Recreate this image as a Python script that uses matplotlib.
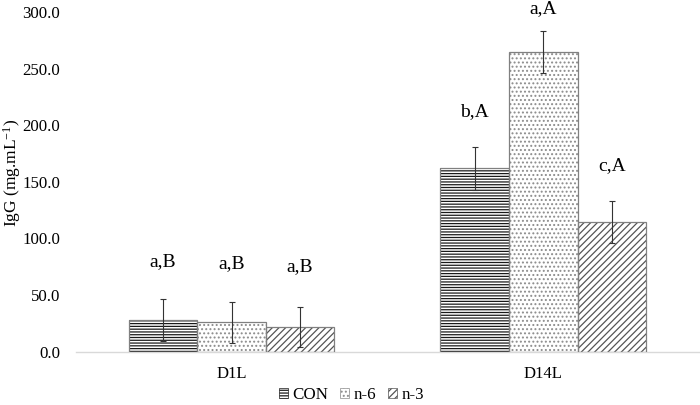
import matplotlib
matplotlib.use("Agg")
import matplotlib.pyplot as plt
import numpy as np
from matplotlib.patches import Patch

plt.rcParams['font.family'] = ['Liberation Serif', 'DejaVu Serif']
plt.rcParams['mathtext.fontset'] = 'custom'
plt.rcParams['mathtext.rm'] = 'Liberation Serif'
plt.rcParams['mathtext.default'] = 'regular'
plt.rcParams['hatch.linewidth'] = 0.9

categories = ['D1L', 'D14L']
series = ['CON', 'n-6', 'n-3']
values = {
    'CON': [28.0, 162.0],
    'n-6': [26.0, 264.7],
    'n-3': [22.1, 114.8],
}
errors = {
    'CON': [18.3, 18.8],
    'n-6': [18.0, 18.5],
    'n-3': [17.8, 18.4],
}
letters = {
    'CON': ['a,B', 'b,A'],
    'n-6': ['a,B', 'a,A'],
    'n-3': ['a,B', 'c,A'],
}
label_y = {
    'CON': [79.5, 212.0],
    'n-6': [77.4, 302.7],
    'n-3': [75.1, 164.3],
}
yticks = [0, 50, 100, 150, 200, 250, 300]

hatches = {'CON': '------', 'n-6': '....', 'n-3': '/////'}
hatch_colors = {'CON': '#1a1a1a', 'n-6': '#8c8c8c', 'n-3': '#555555'}

fig = plt.figure(figsize=(7.0, 4.05), dpi=100)
ax = fig.add_axes([0.108, 0.1316, 0.891, 0.8388])

x = np.arange(len(categories))
w = 0.22
for i, s in enumerate(series):
    pos = x + (i - 1) * w
    ax.bar(pos, values[s], w, color='white', edgecolor=hatch_colors[s],
           hatch=hatches[s], linewidth=0, zorder=2)
    ax.bar(pos, values[s], w, facecolor='none', edgecolor='#808080',
           linewidth=0.9, zorder=3)
    ax.errorbar(pos, values[s], yerr=errors[s], fmt='none', ecolor='#333333',
                elinewidth=0.8, capsize=2, capthick=0.8, zorder=4)
    for j in range(len(categories)):
        ax.text(pos[j], label_y[s][j], letters[s][j], ha='center', va='center',
                fontsize=14, clip_on=False)

ax.set_xlim(-0.5, 1.5)
ax.set_ylim(0, 300)
ax.set_yticks(yticks)
ax.set_yticklabels([f'{t:.1f}' for t in yticks], fontsize=12.2)
ax.set_xticks(x)
ax.set_xticklabels(categories, fontsize=12)
ax.tick_params(axis='both', length=0)
ax.tick_params(axis='y', pad=11)
ax.tick_params(axis='x', pad=10)
for sp in ['top', 'right', 'left']:
    ax.spines[sp].set_visible(False)
ax.spines['bottom'].set_color('#d9d9d9')
ax.spines['bottom'].set_linewidth(1.0)

fig.text(0.017, 0.573, 'IgG (mg.mL$^{-1}$)', rotation=90, ha='center',
         va='center', fontsize=12.5)

handles = [Patch(facecolor='white', edgecolor=hatch_colors[s], hatch=hatches[s],
                 linewidth=0.5) for s in series]
fig.legend(handles, series, loc='center', bbox_to_anchor=(0.502, 0.025), ncol=3,
           frameon=False, fontsize=12.2, handlelength=0.5, handleheight=0.5,
           handletextpad=0.25, columnspacing=0.75, borderpad=0.1)

fig.savefig('out.png', dpi=100)
